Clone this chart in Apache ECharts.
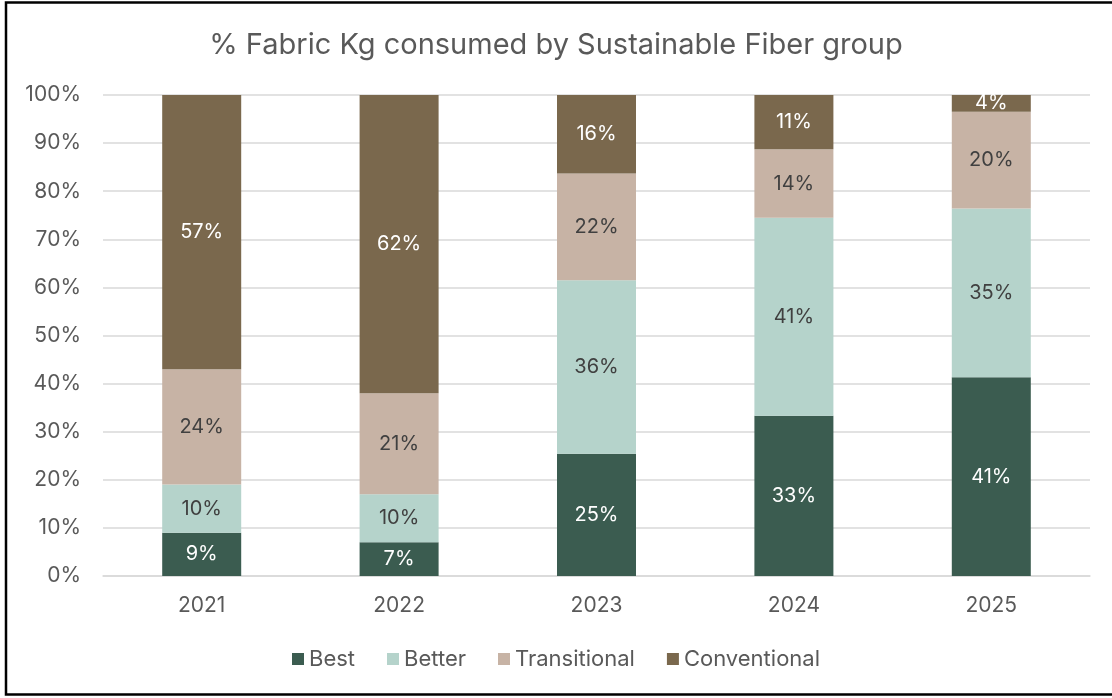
<!DOCTYPE html>
<html>
<head>
<meta charset="utf-8">
<script src="https://cdn.jsdelivr.net/npm/echarts@6/dist/echarts.min.js"></script>
<style>
html,body{margin:0;padding:0;background:#fff;}
#chart{width:1112px;height:698px;}
</style>
</head>
<body>
<div id="chart"></div>
<script>
const categories = ['2021', '2022', '2023', '2024', '2025'];
const best = [9, 7, 25.4, 33.3, 41.3];
const better = [10, 10, 36.1, 41.2, 35.1];
const transitional = [24, 21, 22.2, 14.2, 20.1];
const conventional = [57, 62, 16.3, 11.3, 3.5];
const yTicks = [0, 10, 20, 30, 40, 50, 60, 70, 80, 90, 100];

const FONT = 'Inter';
const chart = echarts.init(document.getElementById('chart'));

function mk(name, data, color, labelColor) {
  return {
    name: name,
    type: 'bar',
    stack: 'total',
    data: data,
    barWidth: 79,
    itemStyle: { color: color },
    label: {
      show: true,
      position: 'inside',
      color: labelColor,
      fontFamily: FONT,
      fontSize: 20,
      formatter: p => Math.round(p.value) + '%'
    }
  };
}

chart.setOption({
  animation: false,
  backgroundColor: '#fff',
  title: {
    text: '% Fabric Kg consumed by Sustainable Fiber group',
    left: 'center',
    top: 26,
    textStyle: { fontFamily: FONT, fontSize: 29, fontWeight: 'normal', color: '#595959' }
  },
  grid: { left: 103, right: 22, top: 95, bottom: 122 },
  legend: {
    bottom: 23,
    left: 'center',
    itemWidth: 12,
    itemHeight: 12,
    itemGap: 32,
    icon: 'rect',
    textStyle: { fontFamily: FONT, fontSize: 22, color: '#595959' },
    data: ['Best', 'Better', 'Transitional', 'Conventional']
  },
  xAxis: {
    type: 'category',
    data: categories,
    axisLine: { show: true, lineStyle: { color: '#d9d9d9', width: 1.5 } },
    axisTick: { show: false },
    axisLabel: { fontFamily: FONT, fontSize: 21, color: '#595959', margin: 19 }
  },
  yAxis: {
    type: 'value',
    min: yTicks[0],
    max: yTicks[yTicks.length - 1],
    interval: 10,
    axisLine: { show: false },
    axisTick: { show: false },
    splitLine: { lineStyle: { color: '#d9d9d9', width: 1.5 } },
    axisLabel: { fontFamily: FONT, fontSize: 21, color: '#595959', margin: 22, formatter: v => v + '%' }
  },
  graphic: [{
    type: 'rect',
    shape: { x: 6, y: 2.5, width: 1130, height: 692 },
    style: { fill: 'none', stroke: '#000', lineWidth: 2.5 },
    silent: true
  }],
  series: [
    mk('Best', best, '#3b5c50', '#ffffff'),
    mk('Better', better, '#b5d3cb', '#404040'),
    mk('Transitional', transitional, '#c7b3a5', '#404040'),
    mk('Conventional', conventional, '#7a684d', '#ffffff')
  ]
});
</script>
</body>
</html>
